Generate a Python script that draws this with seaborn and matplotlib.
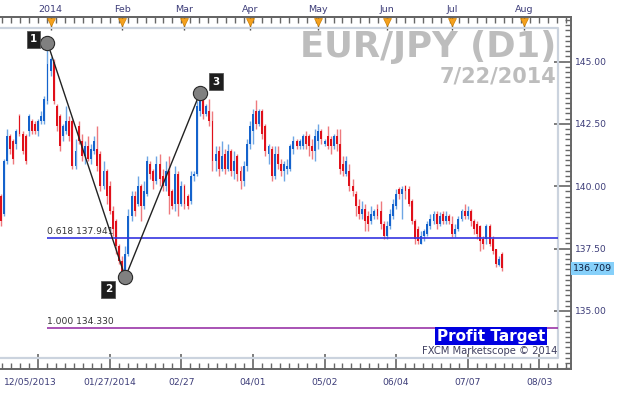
import numpy as np
import pandas as pd
import matplotlib
matplotlib.use("Agg")
import matplotlib.pyplot as plt
import matplotlib.ticker as mticker
from matplotlib.transforms import ScaledTranslation, blended_transform_factory
import seaborn as sns

# ---------------- data ----------------
opens = [139.6, 138.9, 141.0, 142.0, 141.8, 141.7, 142.8, 142.1, 142.0, 142.2,
         142.6, 142.5, 142.2, 142.6, 142.6, 143.4, 144.6, 145.0, 143.2, 142.8,
         142.0, 142.2, 142.6, 142.6, 140.8, 142.4, 141.8, 141.2, 141.6, 141.1,
         141.4, 141.5, 141.3, 140.0, 140.6, 140.0, 139.0, 138.6, 137.6, 137.0,
         136.6, 137.3, 138.8, 139.6, 139.3, 140.0, 139.2, 139.7, 140.9, 140.6,
         140.2, 140.9, 140.4, 140.0, 140.6, 139.8, 139.3, 140.5, 139.3, 140.0,
         139.6, 139.4, 140.4, 140.5, 143.0, 143.5, 142.9, 143.0, 142.6, 141.0,
         141.4, 140.7, 141.3, 140.7, 141.4, 140.6, 141.2, 140.6, 140.2, 140.8,
         141.7, 142.2, 143.0, 142.5, 143.0, 142.4, 141.3, 141.5, 140.4, 141.3,
         140.9, 140.6, 140.7, 140.7, 141.5, 141.8, 141.6, 141.6, 142.0, 142.0,
         141.6, 141.4, 141.8, 142.2, 141.7, 142.0, 141.9, 141.6, 142.0, 141.7,
         140.9, 140.5, 140.6, 140.0, 139.7, 139.2, 138.9, 139.1, 138.8, 138.6,
         138.8, 139.1, 139.0, 138.5, 138.0, 138.4, 138.8, 139.2, 139.9, 139.7,
         140.0, 139.9, 139.4, 138.6, 138.3, 137.7, 138.0, 138.1, 138.4, 138.6,
         138.9, 138.5, 138.9, 138.6, 138.8, 138.5, 138.1, 138.3, 138.7, 139.0,
         138.8, 139.0, 138.6, 138.5, 138.4, 137.9, 137.9, 138.4, 137.9, 137.5,
         136.85, 137.3]
highs = [139.7, 141.1, 142.3, 142.1, 141.9, 142.3, 142.9, 142.2, 142.1, 142.9,
         142.7, 142.6, 142.7, 143.0, 143.6, 145.75, 145.2, 145.1, 143.3, 142.9,
         142.5, 143.2, 142.8, 142.7, 141.9, 142.6, 142.1, 141.8, 142.0, 141.7,
         142.0, 142.4, 141.4, 141.0, 140.7, 140.2, 139.2, 138.7, 137.7, 137.2,
         137.6, 139.1, 139.8, 139.8, 140.4, 140.1, 140.2, 141.2, 141.0, 140.7,
         141.2, 141.3, 140.7, 141.0, 141.2, 139.9, 140.8, 140.6, 140.2, 140.1,
         139.7, 140.6, 140.6, 143.4, 143.75, 143.6, 143.3, 143.5, 143.0, 141.6,
         141.6, 141.8, 141.5, 141.7, 141.5, 141.4, 141.3, 140.8, 141.0, 141.9,
         142.6, 143.1, 143.45, 143.1, 143.1, 142.5, 141.7, 141.6, 141.6, 141.6,
         141.1, 141.0, 141.1, 141.7, 142.0, 141.9, 141.9, 142.1, 142.2, 142.1,
         141.9, 142.3, 142.5, 142.3, 141.9, 142.4, 142.0, 142.1, 142.3, 142.3,
         141.2, 141.2, 140.9, 140.3, 139.8, 139.5, 139.4, 139.3, 139.0, 139.2,
         139.1, 139.3, 139.4, 138.6, 138.6, 139.1, 139.5, 139.9, 139.95, 140.0,
         140.05, 140.0, 139.5, 138.7, 138.4, 138.2, 138.3, 138.6, 138.9, 139.0,
         139.0, 138.95, 139.0, 139.0, 138.9, 138.8, 138.5, 138.8, 139.1, 139.3,
         139.2, 139.1, 138.7, 138.6, 138.45, 138.0, 138.5, 138.5, 138.0, 137.5,
         137.2, 137.35]
lows = [138.4, 138.8, 140.9, 141.3, 140.9, 141.5, 142.0, 141.3, 140.9, 142.0,
        142.1, 142.1, 142.0, 142.5, 142.5, 143.3, 144.4, 143.3, 142.2, 141.4,
        141.8, 142.1, 141.8, 140.7, 140.7, 141.7, 141.0, 140.9, 141.0, 140.9,
        141.3, 140.6, 139.8, 139.9, 139.3, 138.9, 138.0, 137.3, 136.9, 136.5,
        136.35, 137.2, 138.6, 138.8, 139.2, 138.6, 139.1, 139.6, 140.3, 139.9,
        140.1, 140.0, 139.8, 139.8, 138.9, 139.1, 139.0, 138.8, 139.2, 139.1,
        139.1, 139.3, 140.2, 140.4, 142.8, 142.7, 142.8, 142.4, 140.6, 140.6,
        140.4, 140.6, 140.5, 140.6, 140.4, 140.3, 140.2, 139.9, 140.0, 140.6,
        141.5, 141.7, 142.3, 142.4, 141.9, 141.2, 140.9, 140.2, 140.3, 140.7,
        140.4, 140.2, 140.5, 140.6, 141.3, 141.5, 141.5, 141.5, 141.5, 141.2,
        141.1, 141.0, 141.5, 141.7, 141.6, 141.5, 141.3, 141.5, 141.4, 140.5,
        140.4, 140.4, 139.8, 139.6, 138.8, 138.7, 138.7, 138.2, 138.2, 138.5,
        138.7, 138.7, 138.3, 137.9, 137.9, 138.3, 138.7, 139.1, 139.5, 138.7,
        139.5, 139.2, 138.5, 137.7, 137.7, 137.7, 137.8, 138.0, 138.3, 138.5,
        138.3, 138.4, 138.5, 138.5, 138.5, 137.95, 137.95, 138.2, 138.6, 138.7,
        138.7, 138.4, 138.1, 137.9, 137.4, 137.5, 137.7, 137.6, 137.3, 136.75,
        136.8, 136.6]
closes = [138.6, 141.0, 142.0, 141.5, 141.1, 142.2, 142.1, 141.4, 141.0, 142.8,
          142.2, 142.2, 142.6, 142.8, 143.5, 144.9, 145.1, 143.4, 142.4, 141.6,
          142.4, 142.6, 142.0, 140.8, 141.4, 141.8, 141.2, 141.6, 141.1, 141.5,
          141.8, 140.8, 140.0, 140.6, 139.6, 139.0, 138.3, 137.6, 137.0, 136.6,
          137.3, 138.8, 139.6, 139.0, 140.0, 139.2, 139.8, 141.0, 140.5, 140.2,
          140.9, 140.3, 140.0, 140.6, 139.6, 139.2, 140.5, 139.3, 140.0, 139.3,
          139.2, 140.4, 140.5, 143.2, 143.5, 142.9, 143.2, 142.6, 141.0, 141.3,
          140.7, 141.2, 140.7, 141.4, 140.6, 141.0, 140.5, 140.2, 140.8, 141.7,
          142.4, 142.9, 142.5, 143.0, 142.1, 141.4, 141.6, 140.4, 141.3, 140.9,
          140.6, 140.9, 140.8, 141.6, 141.8, 141.6, 141.8, 142.0, 141.7, 141.6,
          141.4, 142.0, 142.2, 141.9, 141.8, 141.6, 141.6, 142.0, 141.7, 140.7,
          140.6, 141.0, 140.0, 139.8, 139.2, 138.9, 139.1, 138.6, 138.5, 138.9,
          139.0, 138.8, 138.5, 138.0, 138.4, 138.9, 139.3, 139.7, 139.7, 139.9,
          139.8, 139.3, 138.6, 137.9, 137.8, 138.0, 138.2, 138.5, 138.7, 138.9,
          138.5, 138.8, 138.6, 138.8, 138.6, 138.1, 138.3, 138.7, 139.0, 138.8,
          139.0, 138.6, 138.3, 138.1, 137.8, 137.7, 138.4, 137.7, 137.4, 136.9,
          137.1, 136.709]
last_date = "2014-07-22"

fib_ratios = ["0.618", "1.000"]
fib_prices = [137.941, 134.330]
pivot_bars = [15, 40, 64]
pivot_prices = [145.75, 136.35, 143.75]
pivot_labels = ["1", "2", "3"]
date_tick_labels = ["12/05/2013", "01/27/2014", "02/27", "04/01", "05/02",
                    "06/04", "07/07", "08/03"]
month_labels = ["2014", "Feb", "Mar", "Apr", "May", "Jun", "Jul", "Aug"]
price_ticks = [135.0, 137.5, 140.0, 142.5, 145.0]
title_text = "EUR/JPY (D1)"
date_text = "7/22/2014"
last_price = 136.709

# ---------------- style ----------------
sns.set_style("white")
plt.rcParams["font.family"] = ["DejaVu Sans"]

W, H = 624, 393
fig = plt.figure(figsize=(W / 100, H / 100), dpi=100)
fig.patch.set_facecolor("white")

# axes spans pixel box x 0..571, y 17..369
AX_L, AX_R, AX_T, AX_B = 0, 571, 17, 369
ax = fig.add_axes([AX_L / W, (H - AX_B) / H, (AX_R - AX_L) / W, (AX_B - AX_T) / H])

PX_PER_BAR = 3.113
X0 = 0.8
PX_PER_PRICE = 24.95
Y145 = 61.5

xlim = (-X0 / PX_PER_BAR, (AX_R - X0) / PX_PER_BAR)
ylim = (145 - (AX_B - Y145) / PX_PER_PRICE, 145 + (Y145 - AX_T) / PX_PER_PRICE)


def fx(px):  # pixel x -> axes fraction
    return (px - AX_L) / (AX_R - AX_L)


def fy(py):  # pixel y -> axes fraction
    return (AX_B - py) / (AX_B - AX_T)


n = len(closes)
df = pd.DataFrame({"bar": np.arange(n), "open": opens, "high": highs,
                   "low": lows, "close": closes})
df["body_low"] = np.minimum(df["open"], df["close"])
df["body"] = np.maximum((df["close"] - df["open"]).abs(), 0.04)
df["dir"] = np.where(df["close"] >= df["open"], "up", "down")

BLUE, RED = "#1462CC", "#E0101A"
BLUE_W, RED_W = "#6EA6E4", "#EE7A7E"

# wicks
ax.vlines(df["bar"], df["low"], df["high"],
          colors=np.where(df["dir"] == "up", BLUE_W, RED_W), lw=1.0, zorder=2)

# bodies
for d, col in [("up", BLUE), ("down", RED)]:
    sub = df[df["dir"] == d].reset_index(drop=True)
    sns.barplot(data=sub, x="bar", y="body", bottom=sub["body_low"].to_numpy(),
                native_scale=True, color=col, width=0.62, errorbar=None,
                saturation=1, linewidth=0, ax=ax, zorder=3)

ax.set_xlabel("")
ax.set_ylabel("")
ax.set_xlim(*xlim)
ax.set_ylim(*ylim)

# inner light frame
frame_right = fx(558)
ax.plot([0, frame_right, frame_right, 0], [fy(28), fy(28), fy(358), fy(358)],
        transform=ax.transAxes, color="#CBD3DE", lw=1.6, zorder=1, clip_on=False)
frame_right_data = xlim[0] + frame_right * (xlim[1] - xlim[0])

# fib levels
fib_colors = ["#3535E0", "#9A35A8"]
for r, p, c in zip(fib_ratios, fib_prices, fib_colors):
    ax.hlines(p, pivot_bars[0], frame_right_data, colors=c, lw=1.2, zorder=4)
    ax.text(pivot_bars[0], p + 0.06, f"{r} {p:.3f}", fontsize=6.6,
            color="#333333", ha="left", va="bottom", zorder=5)

# 1-2-3 pattern
sns.lineplot(x=pivot_bars, y=pivot_prices, sort=False, estimator=None,
             color="#222222", lw=1.0, ax=ax, zorder=6)
ax.scatter(pivot_bars, pivot_prices, s=105, color="#808080",
           edgecolor="#2a2a2a", linewidth=0.8, zorder=7)
offsets_px = [(-14, 3.5), (-17, -12), (16, 11)]
for b, p, lab, (dx, dy) in zip(pivot_bars, pivot_prices, pivot_labels, offsets_px):
    ax.annotate(lab, (b, p), xytext=(dx * 0.72, dy * 0.72), textcoords="offset points",
                ha="center", va="center", fontsize=7.5, fontweight="bold",
                color="white", zorder=8,
                bbox=dict(boxstyle="square,pad=0.32", fc="#1e1e1e", ec="#555555", lw=0.6))

# watermark texts
GRAY = "#BDBDBD"
ax.text(fx(556), fy(57), title_text, transform=ax.transAxes, ha="right",
        va="baseline", fontsize=25.5, fontweight="bold", color=GRAY, zorder=0)
ax.text(fx(556), fy(83), date_text, transform=ax.transAxes, ha="right",
        va="baseline", fontsize=15, fontweight="bold", color=GRAY, zorder=0)
ax.text(fx(545), fy(336), "Profit Target", transform=ax.transAxes, ha="right",
        va="center", fontsize=11, fontweight="bold", color="white", zorder=9,
        bbox=dict(boxstyle="square,pad=0.12", fc="#0000E0", ec="none"))
ax.text(fx(557), fy(351), "FXCM Marketscope \u00a9 2014", transform=ax.transAxes,
        ha="right", va="center", fontsize=7.2, color="#404060", zorder=9)

# last price tag
ax.text(1.0 + 2 / (AX_R - AX_L), last_price, f"{last_price:.3f}",
        transform=blended_transform_factory(ax.transAxes, ax.transData),
        ha="left", va="center", fontsize=6.8, color="#102040", clip_on=False,
        bbox=dict(boxstyle="square,pad=0.18", fc="#86D0FA", ec="none"), zorder=10)

# ---------------- axes / ticks ----------------
LAB = "#3C3C78"
AXC = "#666666"
for s in ["left"]:
    ax.spines[s].set_visible(False)
for s in ["top", "right", "bottom"]:
    ax.spines[s].set_color(AXC)
    ax.spines[s].set_linewidth(1.4)

# dates -> tick positions
dates = pd.bdate_range(end=last_date, periods=n)
ext_dates = pd.bdate_range(start=dates[0], periods=n + 20)
start_idx = int(np.where(ext_dates == pd.Timestamp("2014-01-27"))[0][0])
date_ticks = [start_idx + 23 * k for k in range(-1, len(date_tick_labels) - 1)]
ax.set_xticks(date_ticks, date_tick_labels)
ax.xaxis.set_minor_locator(mticker.MultipleLocator(23 / 8, offset=date_ticks[0] % (23 / 8)))
ax.tick_params(axis="x", which="major", direction="in", length=11, width=1.2,
               color=AXC, labelsize=6.6, labelcolor=LAB, pad=6, top=False, bottom=True)
ax.tick_params(axis="x", which="minor", direction="in", length=4, width=1.0,
               color=AXC, top=False, bottom=True)
first_lab = ax.get_xticklabels()[0]
first_lab.set_transform(first_lab.get_transform() +
                        ScaledTranslation(-8 / 100, 0, fig.dpi_scale_trans))

ax.yaxis.tick_right()
ax.set_yticks(price_ticks, [f"{p:.2f}" for p in price_ticks])
ax.yaxis.set_minor_locator(mticker.MultipleLocator(2.5 / 12))
ax.tick_params(axis="y", which="major", direction="in", length=12, width=1.2,
               color=AXC, labelsize=6.6, labelcolor=LAB, pad=3, left=False, right=True)
ax.tick_params(axis="y", which="minor", direction="in", length=4.5, width=1.0,
               color=AXC, left=False, right=True)

# top month axis
month_idx = [i for i in range(1, len(ext_dates))
             if ext_dates[i].month != ext_dates[i - 1].month][:len(month_labels)]
month_pos = [i - 1 for i in month_idx]
sec = ax.secondary_xaxis("top")
sec.set_xticks(month_pos, month_labels)
sec.xaxis.set_minor_locator(mticker.MultipleLocator(23 / 8, offset=date_ticks[0] % (23 / 8)))
sec.tick_params(axis="x", which="major", direction="in", length=9, width=1.0,
                color="#444444", labelsize=6.8, labelcolor=LAB, pad=2.5)
sec.tick_params(axis="x", which="minor", direction="in", length=4, width=1.0, color=AXC)
sec.spines["top"].set_color(AXC)
sec.spines["top"].set_linewidth(1.4)
ax.scatter(month_pos, [fy(21.5)] * len(month_pos), marker="v", s=32,
           color="#F5A11E", edgecolor="#D08000", linewidth=0.5,
           transform=blended_transform_factory(ax.transData, ax.transAxes),
           clip_on=False, zorder=11)

ax.grid(False)
fig.savefig("out.png", dpi=100, facecolor="white")
